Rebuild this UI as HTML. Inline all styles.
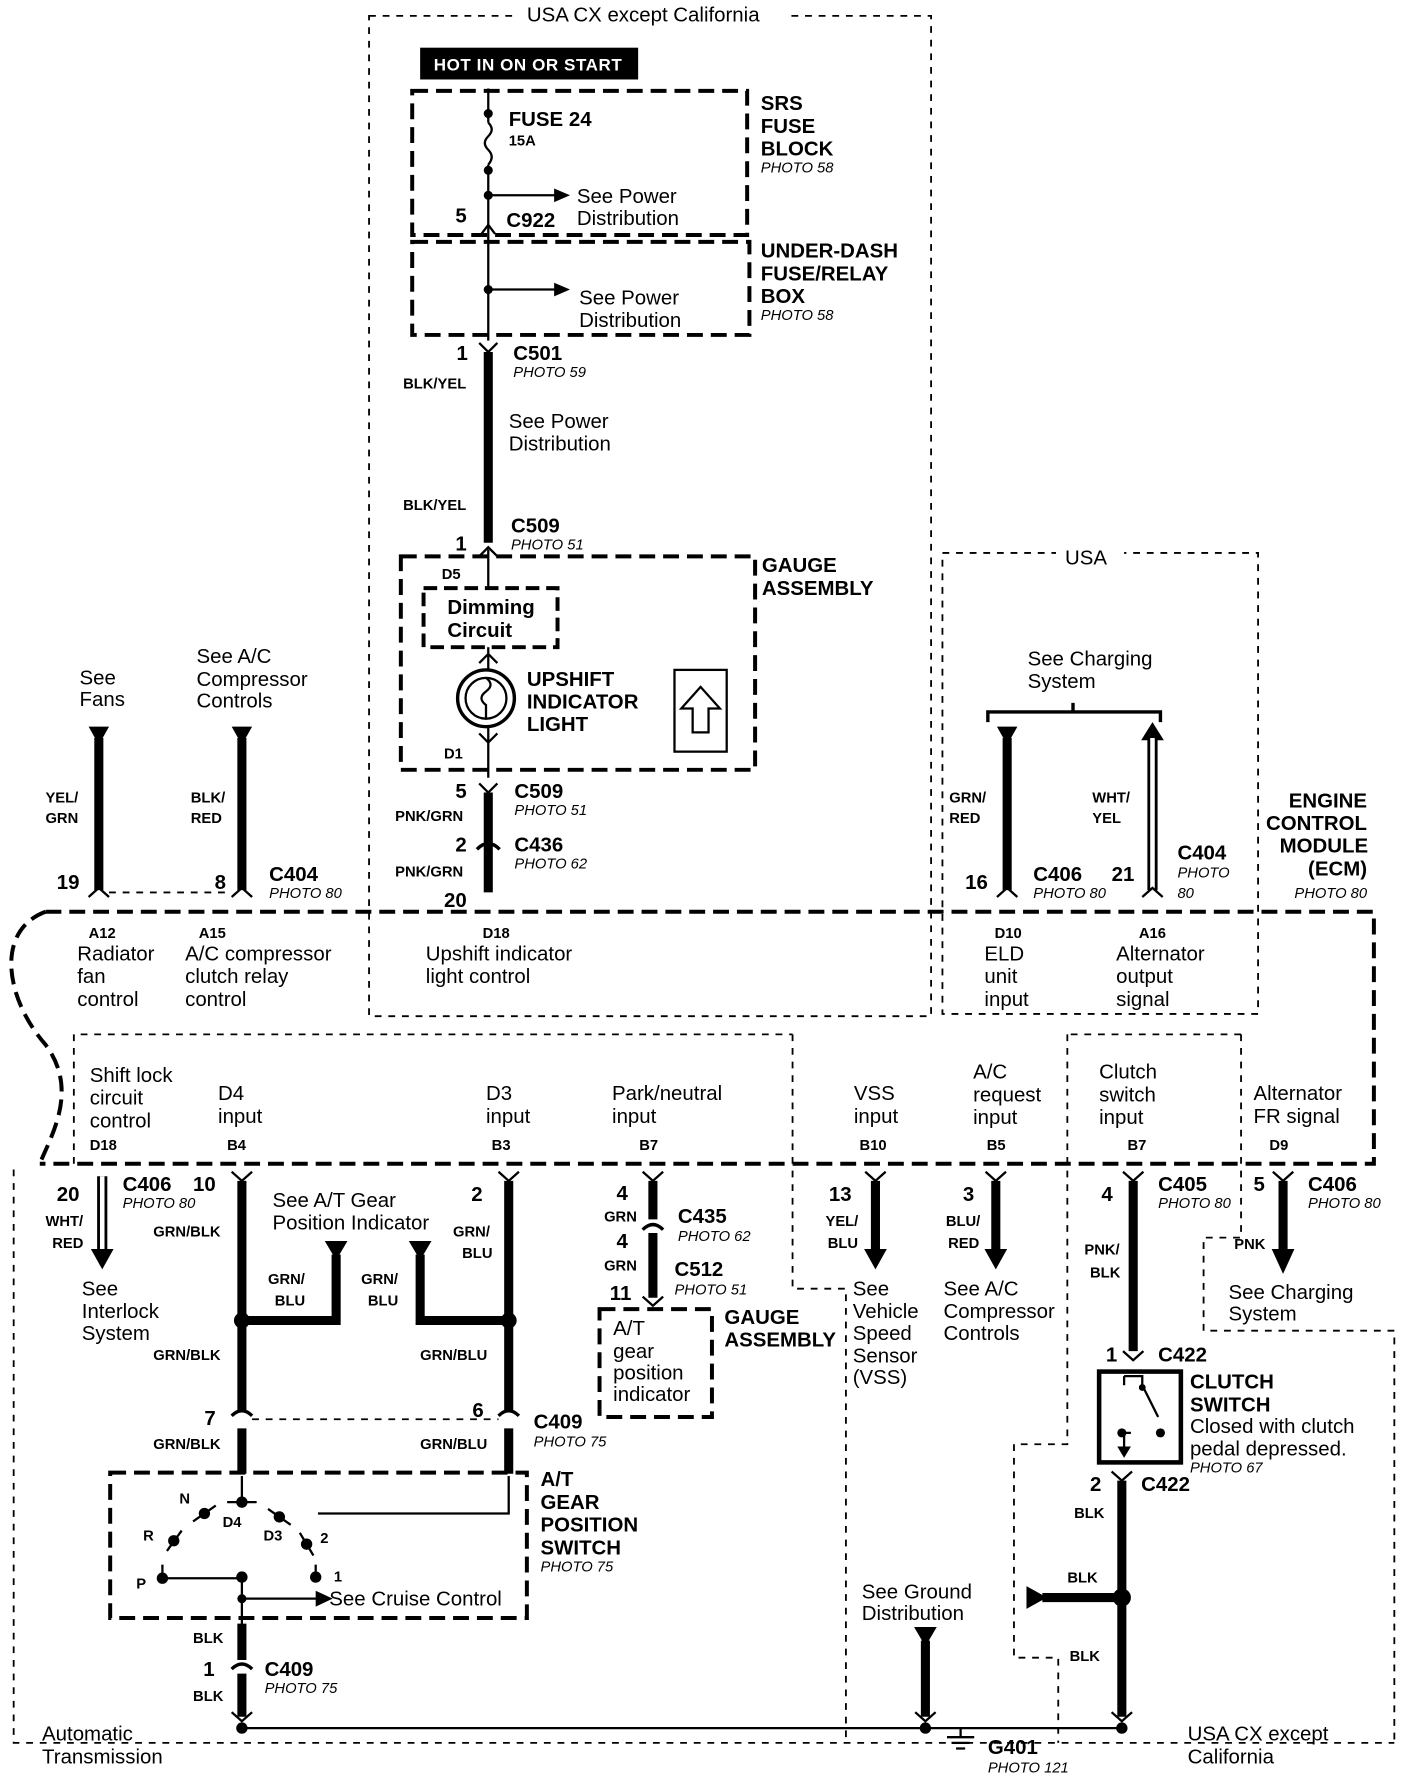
<!DOCTYPE html>
<html><head><meta charset="utf-8"><style>
html,body{margin:0;padding:0;background:#fff}
svg{display:block}
text{font-family:"Liberation Sans",sans-serif;fill:#000}
.b{font-weight:bold;font-size:18px}
.n{font-size:18px}
.s{font-size:13px;font-weight:bold}
.p{font-size:13px;font-style:italic}
.w{stroke:#000;stroke-width:8;fill:none}
.t{stroke:#000;stroke-width:2;fill:none}
.d{stroke:#000;stroke-width:1.6;fill:none;stroke-dasharray:6 6}
.D{stroke:#000;stroke-width:3.5;fill:none;stroke-dasharray:14 7}
</style></head><body>
<svg width="1408" height="1786" viewBox="0 0 1240 1573" xmlns="http://www.w3.org/2000/svg">
<rect width="1240" height="1573" fill="#fff"/>
<path class="d" d="M325 14 H820 V895 H325 Z"/>
<rect x="455" y="3" width="240" height="20" fill="#fff"/>
<text class="n" x="464" y="19">USA CX except California</text>
<rect x="370" y="42" width="192" height="28" fill="#000"/>
<text x="382" y="62" style="font-size:15px;fill:#fff;font-weight:bold;letter-spacing:0.5px">HOT IN ON OR START</text>
<path class="D" d="M363 80 H658 V207 H363 Z"/>
<text class="b" x="670" y="97">SRS</text><text class="b" x="670" y="117">FUSE</text><text class="b" x="670" y="137">BLOCK</text><text class="p" x="670" y="152">PHOTO 58</text>
<path class="t" d="M430 78 V108 M430 145 V300"/>
<path class="t" d="M430 108 q6 6 0 12 q-6 6 0 12 q6 6 0 13"/>
<circle cx="430" cy="100" r="4"/><circle cx="430" cy="150" r="4"/><circle cx="430" cy="172" r="4"/>
<path class="t" d="M430 172 H490"/><path d="M488 166 L502 172 L488 178Z"/>
<text class="b" x="448" y="111">FUSE 24</text><text class="s" x="448" y="128">15A</text>
<text class="n" x="508" y="179">See Power</text><text class="n" x="508" y="198">Distribution</text>
<text class="b" x="401" y="196">5</text><text class="b" x="446" y="200">C922</text>
<path class="t" d="M424 206 L430 198 L436 206"/>
<path class="D" d="M363 213 H660 V295 H363 Z"/>
<path class="t" d="M430 255 H490"/><path d="M488 249 L502 255 L488 261Z"/><circle cx="430" cy="255" r="4"/>
<text class="n" x="510" y="268">See Power</text><text class="n" x="510" y="288">Distribution</text>
<text class="b" x="670" y="227">UNDER-DASH</text><text class="b" x="670" y="247">FUSE/RELAY</text><text class="b" x="670" y="267">BOX</text><text class="p" x="670" y="282">PHOTO 58</text>
<path class="t" d="M422 302 L430 310 L438 302"/>
<path class="w" d="M430 310 V478"/>
<text class="b" x="402" y="317">1</text><text class="b" x="452" y="317">C501</text><text class="p" x="452" y="332">PHOTO 59</text>
<text class="s" x="355" y="342">BLK/YEL</text><text class="s" x="355" y="449">BLK/YEL</text>
<text class="n" x="448" y="377">See Power</text><text class="n" x="448" y="397">Distribution</text>
<text class="b" x="450" y="469">C509</text><text class="p" x="450" y="484">PHOTO 51</text><text class="b" x="401" y="485">1</text>
<path class="t" d="M422 490 L430 482 L438 490"/>
<path class="D" d="M353 490 H665 V678 H353 Z"/>
<text class="b" x="671" y="504">GAUGE</text><text class="b" x="671" y="524">ASSEMBLY</text>
<path class="t" d="M430 484 V685"/>
<text class="s" x="389" y="510">D5</text><text class="s" x="391" y="668">D1</text>
<rect x="373" y="518" width="118" height="52" fill="#fff" style="stroke:#000;stroke-width:3.5;stroke-dasharray:12 6"/>
<text class="b" x="394" y="541">Dimming</text><text class="b" x="394" y="561">Circuit</text>
<path class="t" d="M422 584 L430 576 L438 584 M422 646 L430 654 L438 646"/>
<circle cx="428" cy="615" r="25" fill="#fff" stroke="#000" stroke-width="3"/>
<circle cx="428" cy="615" r="18" fill="none" stroke="#000" stroke-width="2"/>
<path class="t" d="M428 597 q8 6 0 12 q-8 6 0 12 V633"/>
<text class="b" x="464" y="604">UPSHIFT</text><text class="b" x="464" y="624">INDICATOR</text><text class="b" x="464" y="644">LIGHT</text>
<rect x="594" y="590" width="46" height="72" fill="none" stroke="#000" stroke-width="2"/>
<path class="t" d="M617 605 L600 624 H610 V645 H624 V624 H634 Z"/>
<path class="t" d="M422 690 L430 698 L438 690"/>
<path class="w" d="M430 698 V786"/>
<path d="M420 748 q10 -10 20 0" fill="none" stroke="#000" stroke-width="3"/>
<text class="b" x="401" y="703">5</text><text class="b" x="453" y="703">C509</text><text class="p" x="453" y="718">PHOTO 51</text>
<text class="s" x="348" y="723">PNK/GRN</text>
<text class="b" x="401" y="750">2</text><text class="b" x="453" y="750">C436</text><text class="p" x="453" y="765">PHOTO 62</text>
<text class="s" x="348" y="772">PNK/GRN</text>
<text class="b" x="391" y="799">20</text>
<path d="M78 640 H96 L87 656Z"/><path class="w" d="M87 650 V784"/>
<path d="M204 640 H222 L213 656Z"/><path class="w" d="M213 650 V784"/>
<path class="t" d="M78 790 L87 782 L96 790 M204 790 L213 782 L222 790"/>
<path class="d" d="M96 786 H204"/>
<text class="n" x="70" y="603">See</text><text class="n" x="70" y="622">Fans</text>
<text class="n" x="173" y="584">See A/C</text><text class="n" x="173" y="604">Compressor</text><text class="n" x="173" y="623">Controls</text>
<text class="s" x="40" y="707">YEL/</text><text class="s" x="40" y="725">GRN</text>
<text class="s" x="168" y="707">BLK/</text><text class="s" x="168" y="725">RED</text>
<text class="b" x="50" y="783">19</text><text class="b" x="189" y="783">8</text>
<text class="b" x="237" y="776">C404</text><text class="p" x="237" y="791">PHOTO 80</text>
<path class="d" d="M830 487 H1108 V893 H830 Z"/>
<rect x="930" y="480" width="60" height="16" fill="#fff"/>
<text class="n" x="938" y="497">USA</text>
<text class="n" x="905" y="586">See Charging</text><text class="n" x="905" y="606">System</text>
<path d="M870 636 V627 H1022 V636 M945 627 V619" fill="none" stroke="#000" stroke-width="3"/>
<path d="M878 640 H896 L887 656Z"/><path class="w" d="M887 650 V784"/>
<path d="M1005 652 L1015 636 L1025 652Z"/>
<path d="M1015 650 V784" stroke="#000" stroke-width="9" fill="none"/><path d="M1015 650 V784" stroke="#fff" stroke-width="4" fill="none"/>
<path class="t" d="M878 790 L887 782 L896 790 M1006 790 L1015 782 L1024 790"/>
<text class="s" x="836" y="707">GRN/</text><text class="s" x="836" y="725">RED</text>
<text class="s" x="962" y="707">WHT/</text><text class="s" x="962" y="725">YEL</text>
<text class="b" x="850" y="783">16</text><text class="b" x="910" y="776">C406</text><text class="p" x="910" y="791">PHOTO 80</text>
<text class="b" x="979" y="776">21</text><text class="b" x="1037" y="757">C404</text><text class="p" x="1037" y="773">PHOTO</text><text class="p" x="1037" y="791">80</text>
<text class="b" x="1135" y="711">ENGINE</text><text class="b" x="1115" y="731">CONTROL</text><text class="b" x="1127" y="751">MODULE</text><text class="b" x="1152" y="771">(ECM)</text><text class="p" x="1140" y="791">PHOTO 80</text>
<path class="D" d="M40 803 H1210 V1025 H35"/>
<path class="D" d="M40 803 C-5 820 5 880 40 920 C70 960 45 1000 35 1025"/>
<path class="d" d="M65 1025 V911 H698 M1093 911 H940"/>
<text class="s" x="78" y="826">A12</text><text class="n" x="68" y="846">Radiator</text><text class="n" x="68" y="866">fan</text><text class="n" x="68" y="886">control</text>
<text class="s" x="175" y="826">A15</text><text class="n" x="163" y="846">A/C compressor</text><text class="n" x="163" y="866">clutch relay</text><text class="n" x="163" y="886">control</text>
<text class="s" x="425" y="826">D18</text><text class="n" x="375" y="846">Upshift indicator</text><text class="n" x="375" y="866">light control</text>
<text class="s" x="876" y="826">D10</text><text class="n" x="867" y="846">ELD</text><text class="n" x="867" y="866">unit</text><text class="n" x="867" y="886">input</text>
<text class="s" x="1003" y="826">A16</text><text class="n" x="983" y="846">Alternator</text><text class="n" x="983" y="866">output</text><text class="n" x="983" y="886">signal</text>
<text class="n" x="79" y="953">Shift lock</text><text class="n" x="79" y="973">circuit</text><text class="n" x="79" y="993">control</text><text class="s" x="79" y="1013">D18</text>
<text class="n" x="192" y="969">D4</text><text class="n" x="192" y="989">input</text><text class="s" x="200" y="1013">B4</text>
<text class="n" x="428" y="969">D3</text><text class="n" x="428" y="989">input</text><text class="s" x="433" y="1013">B3</text>
<text class="n" x="539" y="969">Park/neutral</text><text class="n" x="539" y="989">input</text><text class="s" x="563" y="1013">B7</text>
<text class="n" x="752" y="969">VSS</text><text class="n" x="752" y="989">input</text><text class="s" x="757" y="1013">B10</text>
<text class="n" x="857" y="950">A/C</text><text class="n" x="857" y="970">request</text><text class="n" x="857" y="990">input</text><text class="s" x="869" y="1013">B5</text>
<text class="n" x="968" y="950">Clutch</text><text class="n" x="968" y="970">switch</text><text class="n" x="968" y="990">input</text><text class="s" x="993" y="1013">B7</text>
<text class="n" x="1104" y="969">Alternator</text><text class="n" x="1104" y="989">FR signal</text><text class="s" x="1118" y="1013">D9</text>
<path class="d" d="M698 911 V1135 H745 V1535 M940 911 V1272 H893 V1460 H932 V1535 M1093 911 V1090 H1060 V1172 H1228 V1535 M12 1030 V1535 H1228"/>
<path d="M90 1036 V1100" stroke="#000" stroke-width="9" fill="none"/><path d="M90 1036 V1100" stroke="#fff" stroke-width="4" fill="none"/>
<path d="M80 1100 H100 L90 1118Z"/>
<text class="b" x="50" y="1058">20</text><text class="b" x="108" y="1049">C406</text><text class="p" x="108" y="1064">PHOTO 80</text>
<text class="s" x="40" y="1080">WHT/</text><text class="s" x="46" y="1099">RED</text>
<text class="n" x="72" y="1141">See</text><text class="n" x="72" y="1161">Interlock</text><text class="n" x="72" y="1180">System</text>
<path class="t" d="M204 1032 L213 1040 L222 1032 M439 1032 L448 1040 L457 1032"/>
<path class="w" d="M213 1040 V1242 M213 1258 V1298 M448 1040 V1242 M448 1258 V1298"/>
<path d="M204 1247 q9 -9 18 0 M439 1247 q9 -9 18 0" fill="none" stroke="#000" stroke-width="3"/>
<path class="d" d="M222 1250 H439"/>
<path class="w" d="M213 1163 H296 V1105 M448 1163 H370 V1105"/>
<path d="M286 1093 H306 L296 1110Z M360 1093 H380 L370 1110Z"/>
<circle cx="213" cy="1163" r="7"/><circle cx="448" cy="1163" r="7"/>
<text class="b" x="170" y="1049">10</text><text class="s" x="135" y="1089">GRN/BLK</text>
<text class="n" x="240" y="1063">See A/T Gear</text><text class="n" x="240" y="1083">Position Indicator</text>
<text class="s" x="236" y="1131">GRN/</text><text class="s" x="242" y="1150">BLU</text>
<text class="s" x="318" y="1131">GRN/</text><text class="s" x="324" y="1150">BLU</text>
<text class="b" x="415" y="1058">2</text><text class="s" x="399" y="1089">GRN/</text><text class="s" x="407" y="1108">BLU</text>
<text class="s" x="135" y="1198">GRN/BLK</text><text class="s" x="370" y="1198">GRN/BLU</text>
<text class="b" x="180" y="1255">7</text><text class="b" x="416" y="1248">6</text>
<text class="b" x="470" y="1258">C409</text><text class="p" x="470" y="1274">PHOTO 75</text>
<text class="s" x="135" y="1276">GRN/BLK</text><text class="s" x="370" y="1276">GRN/BLU</text>
<path class="D" d="M97 1297 H464 V1425 H97 Z"/>
<text class="b" x="476" y="1309">A/T</text><text class="b" x="476" y="1329">GEAR</text><text class="b" x="476" y="1349">POSITION</text><text class="b" x="476" y="1369">SWITCH</text><text class="p" x="476" y="1384">PHOTO 75</text>
<path class="t" d="M213 1300 V1320 M448 1300 V1333 H280"/>
<circle cx="213" cy="1323" r="5"/><circle cx="180" cy="1333" r="5"/><circle cx="246" cy="1336" r="5"/><circle cx="153" cy="1357" r="5"/><circle cx="270" cy="1360" r="5"/><circle cx="143" cy="1390" r="5"/><circle cx="278" cy="1389" r="5"/><circle cx="213" cy="1389" r="5"/><circle cx="213" cy="1408" r="4"/>
<path class="t" d="M200 1323 L226 1323 M170 1340 L190 1326 M236 1329 L256 1343 M147 1366 L160 1348 M264 1350 L276 1370 M143 1378 V1390 M278 1378 V1389 M143 1390 H213 V1432 M213 1408 H280"/>
<path d="M278 1401 L293 1408 L278 1415Z"/>
<text class="s" x="158" y="1324">N</text><text class="s" x="196" y="1345">D4</text><text class="s" x="232" y="1357">D3</text><text class="s" x="126" y="1357">R</text><text class="s" x="282" y="1359">2</text><text class="s" x="120" y="1399">P</text><text class="s" x="294" y="1393">1</text>
<text class="n" x="290" y="1414">See Cruise Control</text>
<path class="w" d="M213 1430 V1462 M213 1474 V1512"/>
<path d="M204 1470 q9 -9 18 0" fill="none" stroke="#000" stroke-width="3"/>
<text class="s" x="170" y="1447">BLK</text><text class="b" x="179" y="1476">1</text><text class="b" x="233" y="1476">C409</text><text class="p" x="233" y="1491">PHOTO 75</text><text class="s" x="170" y="1498">BLK</text>
<path class="t" d="M204 1508 L213 1516 L222 1508"/>
<path class="t" d="M213 1522 H988"/><circle cx="213" cy="1522" r="5"/><circle cx="988" cy="1522" r="5"/><circle cx="815" cy="1522" r="5"/>
<path d="M805 1433 H825 L815 1450Z"/><path class="w" d="M815 1445 V1512"/>
<path class="t" d="M806 1508 L815 1516 L824 1508"/>
<path class="t" d="M846 1522 V1530 M834 1530 H858 M838 1535 H854 M842 1540 H850"/>
<text class="n" x="759" y="1408">See Ground</text><text class="n" x="759" y="1427">Distribution</text>
<text class="b" x="870" y="1545">G401</text><text class="p" x="870" y="1561">PHOTO 121</text>
<text class="n" x="37" y="1533">Automatic</text><text class="n" x="37" y="1553">Transmission</text>
<text class="n" x="1046" y="1533">USA CX except</text><text class="n" x="1046" y="1553">California</text>
<path class="t" d="M566 1032 L575 1040 L584 1032"/>
<path class="w" d="M575 1040 V1074 M575 1086 V1143"/>
<path d="M566 1083 q9 -9 18 0" fill="none" stroke="#000" stroke-width="3"/>
<text class="b" x="543" y="1057">4</text><text class="s" x="532" y="1076">GRN</text><text class="b" x="597" y="1077">C435</text><text class="p" x="597" y="1093">PHOTO 62</text>
<text class="b" x="543" y="1099">4</text><text class="s" x="532" y="1119">GRN</text><text class="b" x="594" y="1124">C512</text><text class="p" x="594" y="1140">PHOTO 51</text>
<text class="b" x="537" y="1145">11</text>
<path class="t" d="M566 1142 L575 1150 L584 1142"/>
<path class="D" d="M528 1153 H627 V1248 H528 Z"/>
<text class="n" x="540" y="1176">A/T</text><text class="n" x="540" y="1196">gear</text><text class="n" x="540" y="1215">position</text><text class="n" x="540" y="1234">indicator</text>
<text class="b" x="638" y="1166">GAUGE</text><text class="b" x="638" y="1186">ASSEMBLY</text>
<path class="t" d="M762 1032 L771 1040 L780 1032 M868 1032 L877 1040 L886 1032 M989 1032 L998 1040 L1007 1032 M1121 1032 L1130 1040 L1139 1032"/>
<path class="w" d="M771 1040 V1102 M877 1040 V1102 M1130 1040 V1102"/>
<path d="M761 1100 H781 L771 1118Z M867 1100 H887 L877 1118Z M1120 1100 H1140 L1130 1122Z"/>
<text class="b" x="730" y="1058">13</text><text class="s" x="727" y="1080">YEL/</text><text class="s" x="729" y="1099">BLU</text>
<text class="n" x="751" y="1141">See</text><text class="n" x="751" y="1161">Vehicle</text><text class="n" x="751" y="1180">Speed</text><text class="n" x="751" y="1200">Sensor</text><text class="n" x="751" y="1219">(VSS)</text>
<text class="b" x="848" y="1058">3</text><text class="s" x="833" y="1080">BLU/</text><text class="s" x="835" y="1099">RED</text>
<text class="n" x="831" y="1141">See A/C</text><text class="n" x="831" y="1161">Compressor</text><text class="n" x="831" y="1180">Controls</text>
<text class="b" x="1104" y="1049">5</text><text class="b" x="1152" y="1049">C406</text><text class="p" x="1152" y="1064">PHOTO 80</text>
<text class="s" x="1087" y="1100">PNK</text>
<text class="n" x="1082" y="1144">See Charging</text><text class="n" x="1082" y="1163">System</text>
<path class="w" d="M998 1040 V1190"/>
<text class="b" x="970" y="1058">4</text><text class="b" x="1020" y="1049">C405</text><text class="p" x="1020" y="1064">PHOTO 80</text>
<text class="s" x="955" y="1105">PNK/</text><text class="s" x="960" y="1125">BLK</text>
<path class="t" d="M989 1190 L998 1198 L1007 1190"/>
<text class="b" x="974" y="1199">1</text><text class="b" x="1020" y="1199">C422</text>
<rect x="968" y="1208" width="72" height="80" fill="none" stroke="#000" stroke-width="4"/>
<path class="t" d="M990 1212 H1006 V1220 L1020 1248 M1020 1262 H1025 M990 1212 V1220 M986 1262 H996 M990 1262 V1282"/>
<circle cx="1006" cy="1222" r="3"/><circle cx="1022" cy="1262" r="4"/><circle cx="988" cy="1262" r="4"/>
<path d="M984 1274 L990 1284 L996 1274Z"/>
<text class="b" x="1048" y="1223">CLUTCH</text><text class="b" x="1048" y="1243">SWITCH</text>
<text class="n" x="1048" y="1262">Closed with clutch</text><text class="n" x="1048" y="1282">pedal depressed.</text><text class="p" x="1048" y="1297">PHOTO 67</text>
<path class="t" d="M979 1296 L988 1304 L997 1296"/>
<text class="b" x="960" y="1313">2</text><text class="b" x="1005" y="1313">C422</text>
<path class="w" d="M988 1304 V1512"/>
<text class="s" x="946" y="1337">BLK</text>
<path class="w" d="M918 1407 H988"/><circle cx="988" cy="1407" r="8"/>
<path d="M904 1397 V1417 L922 1407Z"/>
<text class="s" x="940" y="1394">BLK</text><text class="s" x="942" y="1463">BLK</text>
<path class="t" d="M979 1508 L988 1516 L997 1508"/>
</svg>
</body></html>
